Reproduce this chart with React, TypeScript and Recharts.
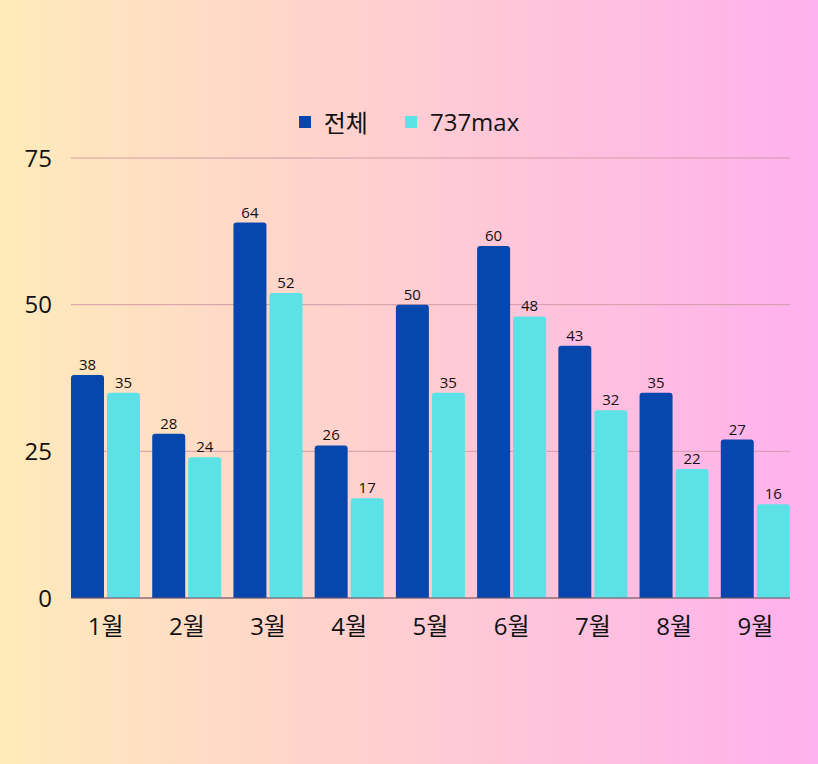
import React from "react";
import {
  BarChart,
  Bar,
  XAxis,
  YAxis,
  CartesianGrid,
  Legend,
  LabelList
} from "recharts";

const months = ["1월", "2월", "3월", "4월", "5월", "6월", "7월", "8월", "9월"];
const totalValues = [38, 28, 64, 26, 50, 60, 43, 35, 27];
const maxValues = [35, 24, 52, 17, 35, 48, 32, 22, 16];
const yTicks = [0, 25, 50, 75];
const seriesOrder = ["전체", "737max"];

const FONT = "'Open Sans', 'Noto Sans CJK KR', sans-serif";
const DARK = "#0747ad";
const CYAN = "#5ce1e6";

const chartData = months.map((m, i) => ({
  month: m,
  total: totalValues[i],
  max: maxValues[i]
}));

// legend drawn by hand so spacing matches the picture
const renderLegend = (props: any) => {
  const items = [...(props.payload || [])].sort(
    (a: any, b: any) => seriesOrder.indexOf(a.value) - seriesOrder.indexOf(b.value)
  );
  return (
    <div style={{ display: "flex", justifyContent: "center", gap: 37, fontFamily: FONT, fontSize: 24, color: "#111" }}>
      {items.map((item: any) => (
        <div key={item.value} style={{ display: "flex", alignItems: "center", gap: 13 }}>
          <span style={{ width: 12, height: 12, background: item.color, display: "inline-block" }} />
          <span>{item.value}</span>
        </div>
      ))}
    </div>
  );
};

export default function App() {
  return (
    <div
      style={{
        position: "absolute",
        left: 0,
        top: 0,
        width: 818,
        height: 764,
        background: "linear-gradient(90deg, #ffebba 0%, #ffd0cf 45%, #ffb0ee 100%)",
        fontFamily: FONT
      }}
    >
      <BarChart
        width={818}
        height={764}
        data={chartData}
        margin={{ top: 158, right: 28, left: 0, bottom: 106 }}
        barGap={3}
      >
        <CartesianGrid vertical={false} stroke="#d29ca8" strokeWidth={1} />
        <XAxis
          dataKey="month"
          height={60}
          padding={{ left: -6, right: -6 }}
          axisLine={{ stroke: "#6e5560", strokeWidth: 1 }}
          tickLine={false}
          tickSize={0}
          tickMargin={20}
          tick={{ fill: "#111", fontSize: 24, fontFamily: FONT }}
        />
        <YAxis
          width={71}
          domain={[0, 75]}
          ticks={yTicks}
          axisLine={false}
          tickLine={false}
          tickSize={0}
          tickMargin={19}
          tick={{ fill: "#111", fontSize: 24, fontFamily: FONT }}
        />
        <Legend
          verticalAlign="middle"
          align="center"
          layout="horizontal"
          content={renderLegend}
          wrapperStyle={{ top: 104, left: 0, width: 818 }}
        />
        <Bar dataKey="total" name="전체" fill={DARK} barSize={33} radius={[3, 3, 0, 0]} isAnimationActive={false}>
          <LabelList dataKey="total" position="top" offset={5} style={{ fill: "#111", fontSize: 15, fontFamily: FONT }} />
        </Bar>
        <Bar dataKey="max" name="737max" fill={CYAN} barSize={33} radius={[3, 3, 0, 0]} isAnimationActive={false}>
          <LabelList dataKey="max" position="top" offset={5} style={{ fill: "#111", fontSize: 15, fontFamily: FONT }} />
        </Bar>
      </BarChart>
    </div>
  );
}
